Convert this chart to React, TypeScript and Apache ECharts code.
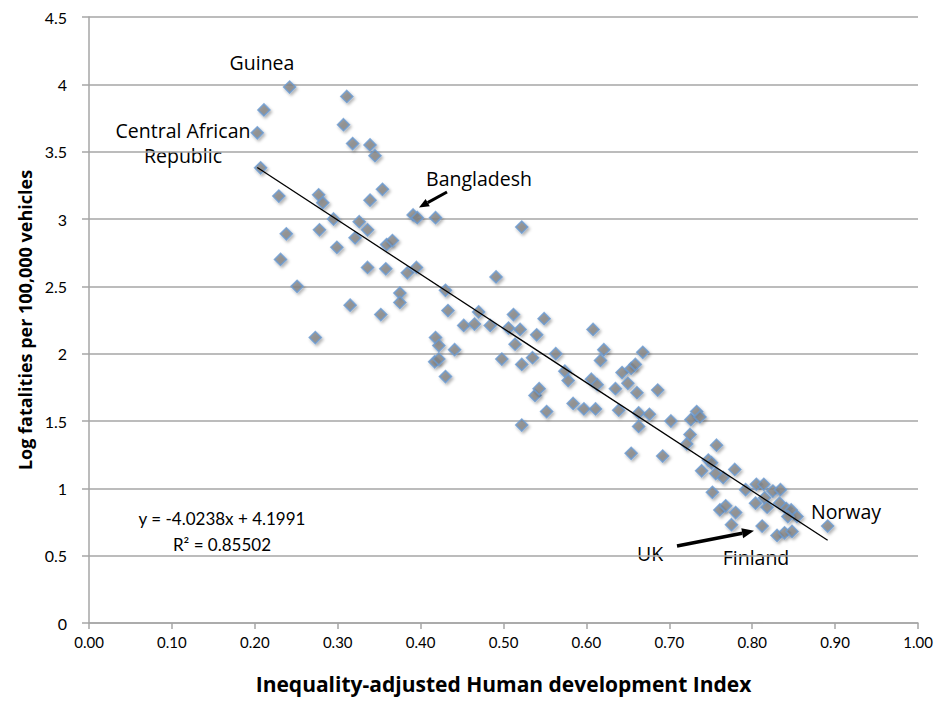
import React, { useEffect, useRef } from "react";
import * as echarts from "echarts";

// Inequality-adjusted HDI (x) and log fatalities per 100,000 vehicles (y)
const ihdi: number[] = [
  0.242, 0.211, 0.203, 0.207, 0.311, 0.307, 0.318, 0.339, 0.345, 0.229,
  0.277, 0.282, 0.295, 0.326, 0.336, 0.339, 0.278, 0.238, 0.321, 0.299,
  0.231, 0.336, 0.251, 0.354, 0.391, 0.396, 0.418, 0.522, 0.359, 0.366,
  0.358, 0.384, 0.395, 0.491, 0.430, 0.375, 0.375, 0.315, 0.352, 0.433,
  0.470, 0.452, 0.465, 0.484, 0.512, 0.549, 0.506, 0.520, 0.540, 0.514,
  0.273, 0.418, 0.422, 0.441, 0.417, 0.422, 0.430, 0.498, 0.522, 0.535,
  0.538, 0.543, 0.552, 0.522, 0.608, 0.563, 0.621, 0.668, 0.617, 0.574,
  0.578, 0.606, 0.613, 0.643, 0.654, 0.659, 0.635, 0.650, 0.661, 0.686,
  0.584, 0.597, 0.611, 0.639, 0.663, 0.676, 0.663, 0.702, 0.726, 0.733,
  0.737, 0.725, 0.721, 0.654, 0.692, 0.757, 0.747, 0.751, 0.739, 0.756,
  0.765, 0.752, 0.779, 0.792, 0.805, 0.814, 0.825, 0.834, 0.815, 0.833,
  0.804, 0.818, 0.841, 0.847, 0.854, 0.843, 0.761, 0.768, 0.780, 0.775,
  0.812, 0.830, 0.839, 0.848, 0.891,
];
const logFatalities: number[] = [
  3.98, 3.81, 3.64, 3.38, 3.91, 3.70, 3.56, 3.55, 3.47, 3.17,
  3.18, 3.12, 3.00, 2.98, 2.92, 3.14, 2.92, 2.89, 2.86, 2.79,
  2.70, 2.64, 2.50, 3.22, 3.03, 3.01, 3.01, 2.94, 2.81, 2.84,
  2.63, 2.60, 2.64, 2.57, 2.47, 2.45, 2.38, 2.36, 2.29, 2.32,
  2.31, 2.21, 2.22, 2.21, 2.29, 2.26, 2.19, 2.18, 2.14, 2.07,
  2.12, 2.12, 2.06, 2.03, 1.94, 1.96, 1.83, 1.96, 1.92, 1.97,
  1.69, 1.74, 1.57, 1.47, 2.18, 2.00, 2.03, 2.01, 1.95, 1.87,
  1.80, 1.81, 1.77, 1.86, 1.89, 1.92, 1.74, 1.78, 1.71, 1.73,
  1.63, 1.59, 1.59, 1.58, 1.56, 1.55, 1.46, 1.50, 1.51, 1.57,
  1.53, 1.40, 1.33, 1.26, 1.24, 1.32, 1.21, 1.19, 1.13, 1.11,
  1.08, 0.97, 1.14, 0.99, 1.03, 1.03, 0.98, 0.99, 0.93, 0.89,
  0.89, 0.86, 0.85, 0.84, 0.79, 0.79, 0.84, 0.87, 0.82, 0.73,
  0.72, 0.65, 0.67, 0.68, 0.72,
];

const trendSlope = -4.0238;
const trendIntercept = 4.1991;
const rSquared = "0.85502";

const xTicks = { min: 0, max: 1, interval: 0.1 };
const yTicks = { min: 0, max: 4.5, interval: 0.5 };

const FONT = "Lato, 'Open Sans', sans-serif";
const FONT_WIDE = "'Open Sans', Lato, sans-serif";

export default function App() {
  const ref = useRef<HTMLDivElement>(null);

  useEffect(() => {
    if (!ref.current) return;
    const chart = echarts.init(ref.current, null, { renderer: "svg" });

    const points = ihdi.map((x, i) => [x, logFatalities[i]]);
    const xMin = Math.min(...ihdi);
    const xMax = Math.max(...ihdi);
    const trend = [
      [xMin, trendSlope * xMin + trendIntercept],
      [xMax, trendSlope * xMax + trendIntercept],
    ];

    const label = (text: string, x: number, y: number, font = FONT_WIDE, size = 19.5) => ({
      type: "text",
      x,
      y,
      style: {
        text,
        fontFamily: font,
        fontSize: size,
        fill: "#000",
        align: "center",
        verticalAlign: "middle",
      },
    });

    chart.setOption({
      animation: false,
      backgroundColor: "#fff",
      grid: { left: 89, right: 21, top: 17, bottom: 79, containLabel: false },
      xAxis: {
        type: "value",
        min: xTicks.min,
        max: xTicks.max,
        interval: xTicks.interval,
        name: "Inequality-adjusted Human development Index",
        nameLocation: "middle",
        nameGap: 50,
        nameTextStyle: { fontFamily: FONT_WIDE, fontSize: 21, fontWeight: "bold", color: "#000" },
        axisLine: { show: true, lineStyle: { color: "#a6a6a6", width: 1.5 } },
        axisTick: { show: true, length: 6, lineStyle: { color: "#a6a6a6", width: 1.5 } },
        axisLabel: {
          fontFamily: FONT,
          fontSize: 15,
          color: "#000",
          margin: 11,
          formatter: (v: number) => v.toFixed(2),
        },
        splitLine: { show: false },
      },
      yAxis: {
        type: "value",
        min: yTicks.min,
        max: yTicks.max,
        interval: yTicks.interval,
        name: "Log fatalities per 100,000 vehicles",
        nameLocation: "middle",
        nameGap: 50,
        nameTextStyle: { fontFamily: FONT_WIDE, fontSize: 18, fontWeight: "bold", color: "#000" },
        axisLine: { show: true, lineStyle: { color: "#a6a6a6", width: 1.5 } },
        axisTick: { show: true, length: 7, lineStyle: { color: "#a6a6a6", width: 1.5 } },
        axisLabel: {
          fontFamily: FONT,
          fontSize: 16,
          color: "#000",
          margin: 22,
          formatter: (v: number) => String(v),
        },
        splitLine: { show: true, lineStyle: { color: "#a6a6a6", width: 1.5 } },
      },
      series: [
        {
          type: "scatter",
          data: points,
          symbol: "diamond",
          symbolSize: 12,
          itemStyle: {
            color: "#848484",
            borderColor: "#6c9bd2",
            borderWidth: 1.6,
            shadowBlur: 3,
            shadowColor: "rgba(0,0,0,0.35)",
            shadowOffsetX: 1.5,
            shadowOffsetY: 2,
          },
          z: 3,
        },
        {
          type: "line",
          data: trend,
          symbol: "none",
          lineStyle: { color: "#000", width: 1.3 },
          z: 4,
        },
      ],
      graphic: [
        label("Guinea", 262, 62),
        label("Central African", 183, 130),
        label("Republic", 183, 155),
        label("Bangladesh", 479, 178),
        {
          type: "line",
          shape: { x1: 447, y1: 192, x2: 427.7, y2: 202.6 },
          style: { stroke: "#000", lineWidth: 3 },
        },
        {
          type: "polygon",
          shape: { points: [[419, 207.5], [425.6, 198.9], [429.8, 206.3]] },
          style: { fill: "#000" },
        },
        label("Norway", 846, 511),
        label("UK", 650, 553),
        label("Finland", 756, 557),
        {
          type: "line",
          shape: { x1: 677, y1: 546, x2: 742.2, y2: 533.2 },
          style: { stroke: "#000", lineWidth: 3.5 },
        },
        {
          type: "polygon",
          shape: { points: [[754, 530.8], [743.1, 538.2], [741.3, 528.2]] },
          style: { fill: "#000" },
        },
        label(`y = ${trendSlope}x + ${trendIntercept}`, 222, 518, FONT, 17),
        label(`R² = ${rSquared}`, 222, 544, FONT, 17),
      ],
    });

    return () => chart.dispose();
  }, []);

  return (
    <div
      ref={ref}
      style={{ position: "absolute", left: 0, top: 0, width: 939, height: 702 }}
    />
  );
}
